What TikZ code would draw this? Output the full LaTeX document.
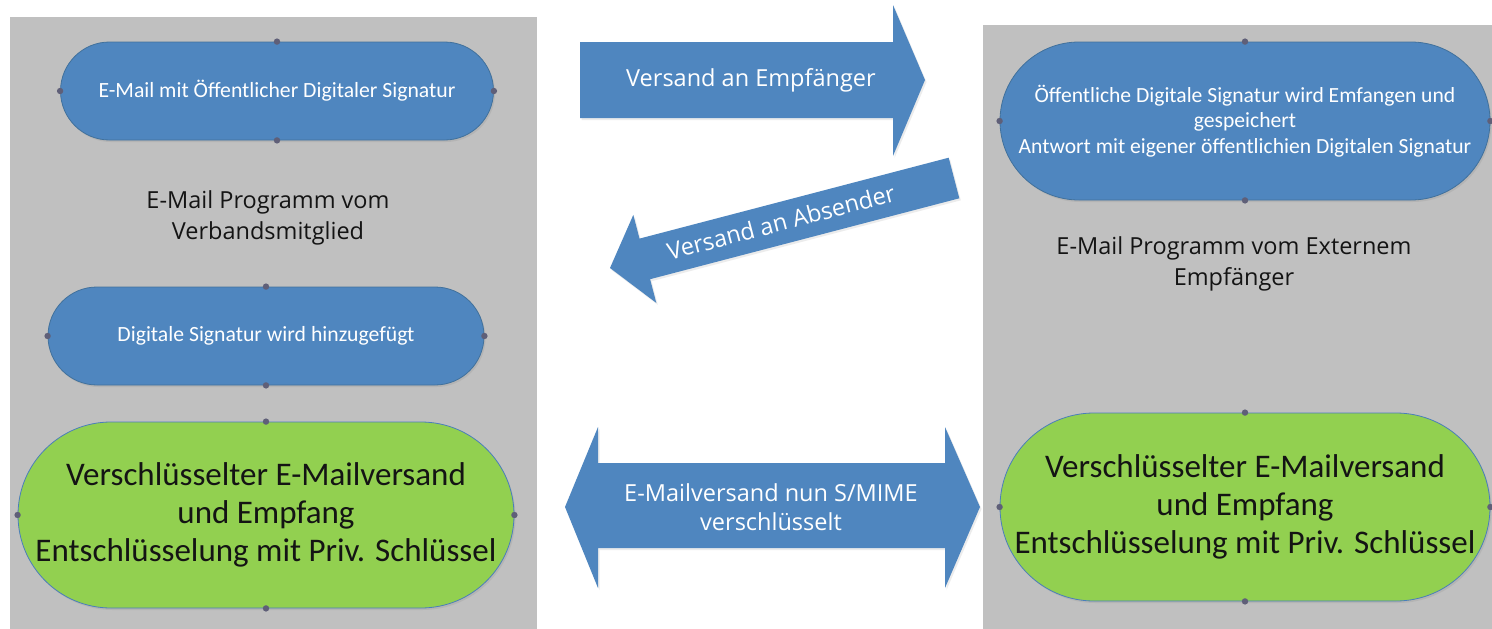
\documentclass[tikz,border=0pt]{standalone}
\usepackage{fontspec}
\setmainfont{Carlito}
\newfontfamily\lblfont{Open Sans}
\usetikzlibrary{shadows}
\definecolor{panelgray}{HTML}{C0C0C0}
\definecolor{boxblue}{HTML}{4F86BF}
\definecolor{boxedge}{HTML}{41719C}
\definecolor{boxgreen}{HTML}{92D050}
\definecolor{greenedge}{HTML}{4A7EBB}
\definecolor{dotcol}{HTML}{5F5F78}
\definecolor{txtdark}{HTML}{141414}
\tikzset{
  panel/.style={fill=panelgray, draw=none},
  bluecap/.style={fill=boxblue, draw=boxedge, line width=0.8pt, text=white, align=center,
     inner sep=0pt, font=\fontsize{21.7}{25}\selectfont,
     drop shadow={opacity=0.18, shadow xshift=1.5pt, shadow yshift=-2pt}},
  greencap/.style={fill=boxgreen, draw=greenedge, line width=0.8pt, text=txtdark, align=center,
     inner sep=0pt, font=\fontsize{33}{38}\selectfont,
     drop shadow={opacity=0.18, shadow xshift=1.5pt, shadow yshift=-2pt}},
  lbl/.style={text=txtdark, align=center, font=\lblfont\fontsize{23.5}{31}\selectfont},
  arrowbody/.style={fill=boxblue, draw=none,
     drop shadow={opacity=0.15, shadow xshift=1.5pt, shadow yshift=-2pt}},
  arrowtxt/.style={text=white, align=center, font=\lblfont\fontsize{23.5}{29}\selectfont},
  cdot/.style={fill=dotcol, draw=none}
}
\newcommand{\capdots}[1]{%
  \fill[cdot] (#1.north) circle (3.2pt);
  \fill[cdot] (#1.south) circle (3.2pt);
  \fill[cdot] (#1.west) circle (3.2pt);
  \fill[cdot] (#1.east) circle (3.2pt);}
\begin{document}
\begin{tikzpicture}[x=1pt, y=-1pt]
\useasboundingbox (0,0) rectangle (1492,629);
\fill[white] (0,0) rectangle (1492,629);
% panels
\fill[panel] (10,17) rectangle (537,629);
\fill[panel] (983,25) rectangle (1492,629);
% left side
\node[bluecap, minimum width=433pt, minimum height=98pt, rounded corners=49pt] (sig) at (277,91)
  {E-Mail mit Öffentlicher Digitaler Signatur};
\node[lbl] (lprog) at (268,218) {E-Mail Programm vom\\Verbandsmitglied};
\node[bluecap, minimum width=436pt, minimum height=98pt, rounded corners=49pt] (add) at (266,336)
  {Digitale Signatur wird hinzugefügt};
\node[greencap, minimum width=496pt, minimum height=186pt, rounded corners=93pt] (lenc) at (266,515)
  {Verschlüsselter E-Mailversand\\und Empfang\\Entschlüsselung mit Priv. Schlüssel};
% right side
\node[bluecap, minimum width=490pt, minimum height=158pt, rounded corners=79pt,
      font=\fontsize{21.6}{25.5}\selectfont] (recv) at (1245,121)
  {Öffentliche Digitale Signatur wird Emfangen und\\gespeichert\\Antwort mit eigener öffentlichien Digitalen Signatur};
\node[lbl] (rprog) at (1234,264) {E-Mail Programm vom Externem\\Empfänger};
\node[greencap, minimum width=490pt, minimum height=188pt, rounded corners=94pt] (renc) at (1245,507)
  {Verschlüsselter E-Mailversand\\und Empfang\\Entschlüsselung mit Priv. Schlüssel};
\capdots{sig}\capdots{add}\capdots{lenc}\capdots{recv}\capdots{renc}
% arrow 1: Versand an Empfänger
\fill[arrowbody] (580,42) -- (893,42) -- (893,5) -- (925,80) -- (893,156) -- (893,118) -- (580,118) -- cycle;
\node[arrowtxt] (a1) at (751,80) {Versand an Empfänger};
% arrow 2: Versand an Absender
\fill[arrowbody] (948.7,157.7) -- (959.3,198.3) -- (650.1,279.2) -- (656.3,302.9) -- (610,268)
  -- (633.3,214.9) -- (639.5,238.6) -- cycle;
\node[arrowtxt, rotate=14.7] (a2) at (781,222) {Versand an Absender};
% arrow 3: double arrow
\fill[arrowbody] (565,507) -- (598,427) -- (598,463) -- (945,463) -- (945,427) -- (980,507)
  -- (945,588) -- (945,548) -- (598,548) -- (598,588) -- cycle;
\node[arrowtxt] (a3) at (771,507) {E-Mailversand nun S/MIME\\verschlüsselt};
\end{tikzpicture}
\end{document}
